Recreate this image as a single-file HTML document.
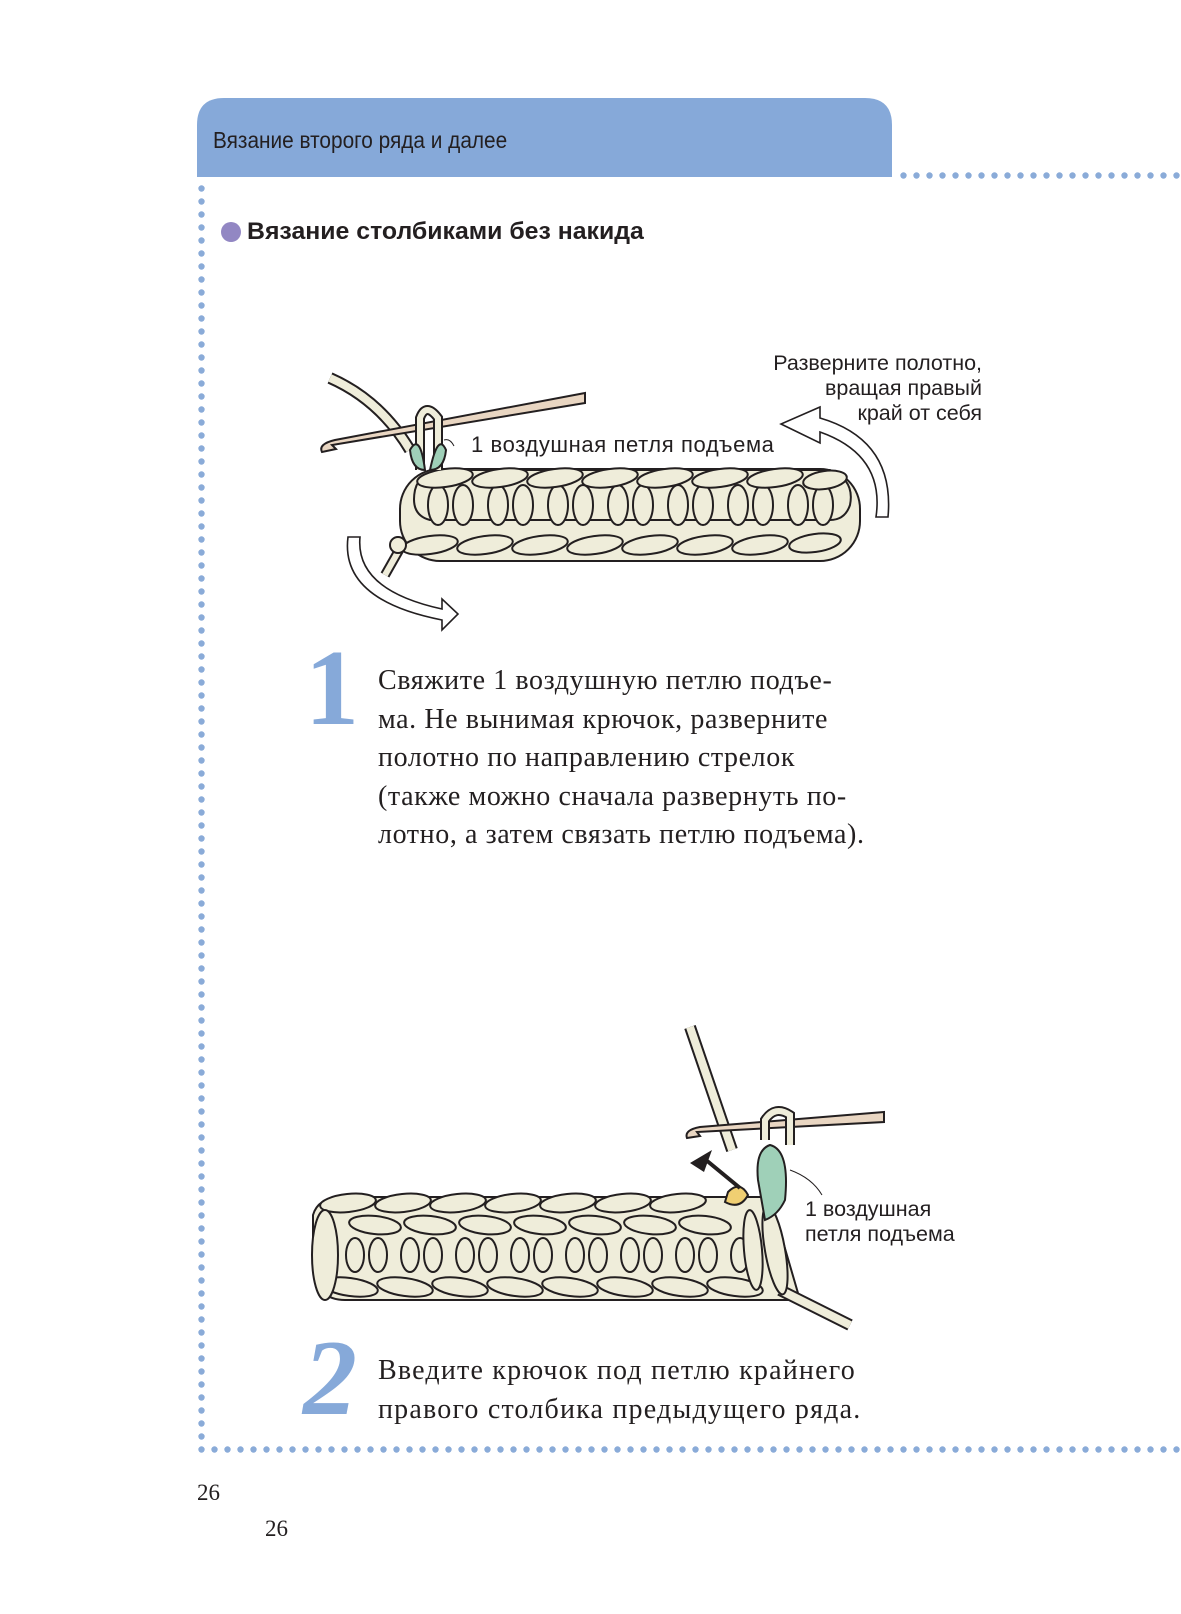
<!DOCTYPE html>
<html><head><meta charset="utf-8"><style>
html,body{margin:0;padding:0;background:#fff}
body{width:1181px;height:1614px;position:relative;overflow:hidden;font-family:"Liberation Sans","DejaVu Sans",sans-serif}
.abs{position:absolute;white-space:nowrap}
.serif{font-family:"Liberation Serif","DejaVu Serif",serif;color:#231f20}
</style></head><body>
<svg class="abs" style="left:0;top:0" width="1181" height="1614" viewBox="0 0 1181 1614">
<defs>
<pattern id="dh" x="0" y="0" width="13" height="13" patternUnits="userSpaceOnUse"><circle cx="6.5" cy="6.5" r="3.2" fill="#8aabd8"/></pattern>
</defs>
<path d="M197 177 V125 Q197 98 224 98 H865 Q892 98 892 125 V177 Z" fill="#86a9d9"/>
<rect x="897" y="169" width="284" height="13" fill="url(#dh)"/>
<rect x="195" y="182" width="13" height="1261" fill="url(#dh)"/>
<rect x="195" y="1443" width="986" height="13" fill="url(#dh)"/>
<circle cx="231" cy="232" r="10" fill="#9287c3"/>

<g stroke="#231f20" stroke-width="2" fill="#efedda">
 <path d="M330 378 Q380 400 410 450" fill="none" stroke-width="12" stroke="#231f20"/>
 <path d="M330 378 Q380 400 410 450" fill="none" stroke-width="8" stroke="#efedda"/>
 <path d="M585 393 L335 440 Q318 444 322 452 L336 449 L332 445 L585 403 Z" fill="#e9d6c2"/>
 <rect x="400" y="469" width="460" height="92" rx="40" />
 <path d="M415 490 Q420 470 445 470 H830 Q855 480 850 505 Q845 520 830 520 H430 Q410 515 415 490Z"/>
 <g>
  <ellipse cx="438" cy="505" rx="10" ry="20"/><ellipse cx="463" cy="505" rx="10" ry="20"/>
  <ellipse cx="498" cy="505" rx="10" ry="20"/><ellipse cx="523" cy="505" rx="10" ry="20"/>
  <ellipse cx="558" cy="505" rx="10" ry="20"/><ellipse cx="583" cy="505" rx="10" ry="20"/>
  <ellipse cx="618" cy="505" rx="10" ry="20"/><ellipse cx="643" cy="505" rx="10" ry="20"/>
  <ellipse cx="678" cy="505" rx="10" ry="20"/><ellipse cx="703" cy="505" rx="10" ry="20"/>
  <ellipse cx="738" cy="505" rx="10" ry="20"/><ellipse cx="763" cy="505" rx="10" ry="20"/>
  <ellipse cx="798" cy="505" rx="10" ry="20"/><ellipse cx="823" cy="505" rx="10" ry="20"/>
 </g>
 <g>
  <ellipse cx="445" cy="478" rx="28" ry="9" transform="rotate(-8 445 478)"/>
  <ellipse cx="500" cy="478" rx="28" ry="9" transform="rotate(-8 500 478)"/>
  <ellipse cx="555" cy="478" rx="28" ry="9" transform="rotate(-8 555 478)"/>
  <ellipse cx="610" cy="478" rx="28" ry="9" transform="rotate(-8 610 478)"/>
  <ellipse cx="665" cy="478" rx="28" ry="9" transform="rotate(-8 665 478)"/>
  <ellipse cx="720" cy="478" rx="28" ry="9" transform="rotate(-8 720 478)"/>
  <ellipse cx="775" cy="478" rx="28" ry="9" transform="rotate(-8 775 478)"/>
  <ellipse cx="825" cy="480" rx="22" ry="9" transform="rotate(-8 825 480)"/>
  <ellipse cx="430" cy="545" rx="28" ry="9" transform="rotate(-8 430 545)"/>
  <ellipse cx="485" cy="545" rx="28" ry="9" transform="rotate(-8 485 545)"/>
  <ellipse cx="540" cy="545" rx="28" ry="9" transform="rotate(-8 540 545)"/>
  <ellipse cx="595" cy="545" rx="28" ry="9" transform="rotate(-8 595 545)"/>
  <ellipse cx="650" cy="545" rx="28" ry="9" transform="rotate(-8 650 545)"/>
  <ellipse cx="705" cy="545" rx="28" ry="9" transform="rotate(-8 705 545)"/>
  <ellipse cx="760" cy="545" rx="28" ry="9" transform="rotate(-8 760 545)"/>
  <ellipse cx="815" cy="543" rx="26" ry="9" transform="rotate(-8 815 543)"/>
 </g>
 <path d="M402 545 L385 575" stroke-width="10" stroke="#231f20"/>
 <path d="M402 545 L385 575" stroke-width="6" stroke="#efedda"/>
 <circle cx="398" cy="545" r="8"/>
 <path d="M420 470 V418 Q426 402 438 418 V470" fill="none" stroke-width="10"/>
 <path d="M420 470 V418 Q426 402 438 418 V470" fill="none" stroke-width="6" stroke="#efedda"/>
 <path d="M410 450 Q420 432 425 470 Q412 470 410 450Z" fill="#9fd0b8"/>
 <path d="M446 450 Q438 432 430 470 Q444 470 446 450Z" fill="#9fd0b8"/>
</g>
<path d="M454 446 Q450 438 444 440" fill="none" stroke="#231f20" stroke-width="1"/>
<g fill="#fff" stroke="#231f20" stroke-width="1.6">
 <path d="M876 517 Q885 455 820 432 L820 443 L781 424 L820 407 L820 418 Q895 440 888 517 Z"/>
 <path d="M348 537 Q340 600 442 620 L442 630 L458 614 L442 599 L442 609 Q355 590 360 537 Z"/>
</g>

<g stroke="#231f20" stroke-width="2" fill="#efedda">
 <path d="M690 1027 L732 1150" stroke-width="12"/>
 <path d="M690 1027 L732 1150" stroke-width="8" stroke="#efedda"/>
 <path d="M884 1112 L700 1127 Q684 1130 687 1138 L700 1136 L697 1132 L884 1122 Z" fill="#e9d6c2"/>
 <path d="M313 1215 Q318 1198 340 1197 H770 L800 1300 H345 Q313 1300 313 1260 Z"/>
 <g>
  <ellipse cx="348" cy="1203" rx="28" ry="9" transform="rotate(-6 348 1203)"/>
  <ellipse cx="403" cy="1203" rx="28" ry="9" transform="rotate(-6 403 1203)"/>
  <ellipse cx="458" cy="1203" rx="28" ry="9" transform="rotate(-6 458 1203)"/>
  <ellipse cx="513" cy="1203" rx="28" ry="9" transform="rotate(-6 513 1203)"/>
  <ellipse cx="568" cy="1203" rx="28" ry="9" transform="rotate(-6 568 1203)"/>
  <ellipse cx="623" cy="1203" rx="28" ry="9" transform="rotate(-6 623 1203)"/>
  <ellipse cx="678" cy="1203" rx="28" ry="9" transform="rotate(-6 678 1203)"/>
  <ellipse cx="375" cy="1225" rx="26" ry="9" transform="rotate(6 375 1225)"/>
  <ellipse cx="430" cy="1225" rx="26" ry="9" transform="rotate(6 430 1225)"/>
  <ellipse cx="485" cy="1225" rx="26" ry="9" transform="rotate(6 485 1225)"/>
  <ellipse cx="540" cy="1225" rx="26" ry="9" transform="rotate(6 540 1225)"/>
  <ellipse cx="595" cy="1225" rx="26" ry="9" transform="rotate(6 595 1225)"/>
  <ellipse cx="650" cy="1225" rx="26" ry="9" transform="rotate(6 650 1225)"/>
  <ellipse cx="705" cy="1225" rx="26" ry="9" transform="rotate(6 705 1225)"/>
 </g>
 <g>
  <ellipse cx="355" cy="1255" rx="9" ry="17"/><ellipse cx="378" cy="1255" rx="9" ry="17"/>
  <ellipse cx="410" cy="1255" rx="9" ry="17"/><ellipse cx="433" cy="1255" rx="9" ry="17"/>
  <ellipse cx="465" cy="1255" rx="9" ry="17"/><ellipse cx="488" cy="1255" rx="9" ry="17"/>
  <ellipse cx="520" cy="1255" rx="9" ry="17"/><ellipse cx="543" cy="1255" rx="9" ry="17"/>
  <ellipse cx="575" cy="1255" rx="9" ry="17"/><ellipse cx="598" cy="1255" rx="9" ry="17"/>
  <ellipse cx="630" cy="1255" rx="9" ry="17"/><ellipse cx="653" cy="1255" rx="9" ry="17"/>
  <ellipse cx="685" cy="1255" rx="9" ry="17"/><ellipse cx="708" cy="1255" rx="9" ry="17"/>
  <ellipse cx="740" cy="1255" rx="9" ry="17"/>
 </g>
 <g>
  <ellipse cx="350" cy="1287" rx="28" ry="9" transform="rotate(8 350 1287)"/>
  <ellipse cx="405" cy="1287" rx="28" ry="9" transform="rotate(8 405 1287)"/>
  <ellipse cx="460" cy="1287" rx="28" ry="9" transform="rotate(8 460 1287)"/>
  <ellipse cx="515" cy="1287" rx="28" ry="9" transform="rotate(8 515 1287)"/>
  <ellipse cx="570" cy="1287" rx="28" ry="9" transform="rotate(8 570 1287)"/>
  <ellipse cx="625" cy="1287" rx="28" ry="9" transform="rotate(8 625 1287)"/>
  <ellipse cx="680" cy="1287" rx="28" ry="9" transform="rotate(8 680 1287)"/>
  <ellipse cx="735" cy="1287" rx="28" ry="9" transform="rotate(8 735 1287)"/>
 </g>
 <ellipse cx="325" cy="1255" rx="13" ry="45"/>
 <path d="M780 1290 L850 1325" stroke-width="12"/>
 <path d="M780 1290 L850 1325" stroke-width="8" stroke="#efedda"/>
 <ellipse cx="775" cy="1250" rx="10" ry="45" transform="rotate(-10 775 1250)"/>
 <ellipse cx="753" cy="1250" rx="9" ry="40" transform="rotate(-5 753 1250)"/>
 <path d="M758 1180 Q755 1150 770 1145 Q790 1150 785 1200 Q778 1215 765 1220 Z" fill="#9fd0b8"/>
 <path d="M765 1140 V1120 Q775 1105 790 1115 V1145" fill="none" stroke-width="10"/>
 <path d="M765 1140 V1120 Q775 1105 790 1115 V1145" fill="none" stroke-width="6" stroke="#efedda"/>
 <path d="M728 1192 Q740 1180 748 1195 Q740 1210 725 1202Z" fill="#f0cf72"/>
</g>
<path d="M740 1188 L706 1160" stroke="#231f20" stroke-width="4"/>
<path d="M690 1163 L712 1150 L704 1172 Z" fill="#231f20"/>
<path d="M790 1170 Q812 1178 822 1195" fill="none" stroke="#231f20" stroke-width="1"/>
</svg>

<div class="abs" style="left:213px;top:127px;font-size:23px;color:#231f20;transform:scaleX(0.905);transform-origin:left">Вязание второго ряда и далее</div>
<div class="abs" style="left:247px;top:218px;font-size:24px;font-weight:bold;color:#231f20;transform:scaleX(1.035);transform-origin:left">Вязание столбиками без накида</div>

<div class="abs" style="left:732px;top:351px;font-size:21.5px;color:#231f20;text-align:right;line-height:25px;width:250px;">Разверните полотно,<br>вращая правый<br>край от себя</div>
<div class="abs" style="left:471px;top:432px;font-size:22px;color:#231f20;letter-spacing:0.6px">1 воздушная петля подъема</div>
<div class="abs" style="left:805px;top:1197px;font-size:21.5px;color:#231f20;line-height:25px">1 воздушная<br>петля подъема</div>

<div class="abs" style="left:305px;top:635px;font-family:'Liberation Serif',serif;font-size:108px;font-weight:bold;color:#86a9d9;line-height:108px">1</div>
<div class="abs serif" style="left:378px;top:662px;font-size:28px;line-height:38.6px;letter-spacing:0.6px">Свяжите 1 воздушную петлю подъе-<br>ма. Не вынимая крючок, разверните<br>полотно по направлению стрелок<br>(также можно сначала развернуть по-<br>лотно, а затем связать петлю подъема).</div>

<div class="abs" style="left:303px;top:1325px;font-family:'Liberation Serif',serif;font-size:108px;font-weight:bold;color:#86a9d9;line-height:108px;font-style:italic">2</div>
<div class="abs serif" style="left:378px;top:1352px;font-size:28px;line-height:38.6px;letter-spacing:1.2px">Введите крючок под петлю крайнего<br>правого столбика предыдущего ряда.</div>

<div class="abs serif" style="left:197px;top:1480px;font-size:23px">26</div>
<div class="abs serif" style="left:265px;top:1516px;font-size:23px">26</div>
</body></html>
